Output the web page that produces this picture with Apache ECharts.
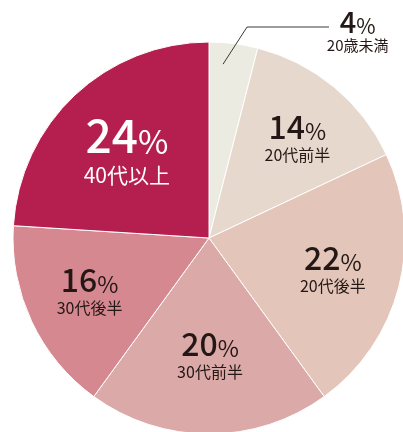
<!DOCTYPE html>
<html>
<head>
<meta charset="utf-8">
<script src="https://cdn.jsdelivr.net/npm/echarts@6/dist/echarts.min.js"></script>
<style>
  html, body { margin: 0; padding: 0; background: #fff; }
  #chart { width: 403px; height: 432px; }
</style>
</head>
<body>
<div id="chart"></div>
<script>
  // data, clockwise from 12 o'clock
  var categories = ['20歳未満', '20代前半', '20代後半', '30代前半', '30代後半', '40代以上'];
  var shares = [4, 14, 22, 20, 16, 24];
  var colors = ['#ECEBE2', '#E6D8CC', '#E3C5BA', '#DBA9A8', '#D68891', '#B41F50'];
  // nudges of the inside labels (px)
  var labelOffsets = [[136, -106], [24, -23], [26, 5], [1, 15], [-28, 9], [-13, -14]];

  var cx = 209, cy = 238, r = 196;
  var font = '"Noto Sans CJK JP", "Noto Sans", sans-serif';

  function rich(big, txtColor) {
    var n = big === 2 ? 46 : (big === 0 ? 29 : 32);
    var p = big === 2 ? 33 : (big === 0 ? 21 : 23);
    var s = big === 2 ? 21 : (big === 0 ? 15 : 16);
    var h1 = big === 2 ? 50 : (big === 0 ? 28 : 36);
    var h3 = big === 2 ? 34 : (big === 0 ? 18 : 24);
    return {
      n: { fontSize: n, fontWeight: 500, fontFamily: font, color: txtColor, lineHeight: h1, verticalAlign: 'bottom' },
      p: { fontSize: p, fontFamily: font, color: txtColor, lineHeight: h1 - 0.76 * (n - p), verticalAlign: 'bottom' },
      s: { fontSize: s, fontFamily: font, color: txtColor, lineHeight: h3, align: 'center' }
    };
  }

  var data = categories.map(function (name, i) {
    var big = i === 5 ? 2 : (i === 0 ? 0 : 1);
    var txt = i === 5 ? '#ffffff' : '#231815';
    return {
      name: name,
      value: shares[i],
      itemStyle: { color: colors[i] },
      label: {
        show: true,
        position: 'inside',
        offset: labelOffsets[i],
        align: 'center',
        formatter: '{n|' + shares[i] + '}{p|%}\n{s|' + name + '}',
        rich: rich(big, txt)
      }
    };
  });

  // leader line for the small 4% slice, from inside the slice up to its label
  var a = shares[0] / 2 / 100 * 2 * Math.PI - 0.045;
  var x0 = cx + r * 0.89 * Math.sin(a), y0 = cy - r * 0.89 * Math.cos(a);
  var y1 = 27;
  var leader = [[x0, y0], [x0 + 24, y1], [329, y1]];

  var chart = echarts.init(document.getElementById('chart'));
  chart.setOption({
    animation: false,
    graphic: [{
      type: 'polyline',
      z: 100,
      shape: { points: leader },
      style: { stroke: '#3a3a3a', lineWidth: 1, fill: null }
    }],
    series: [{
      type: 'pie',
      center: [cx, cy],
      radius: r,
      startAngle: 90,
      clockwise: true,
      avoidLabelOverlap: false,
      itemStyle: { borderColor: '#ffffff', borderWidth: 1 },
      labelLine: { show: false },
      data: data
    }]
  });
</script>
</body>
</html>
